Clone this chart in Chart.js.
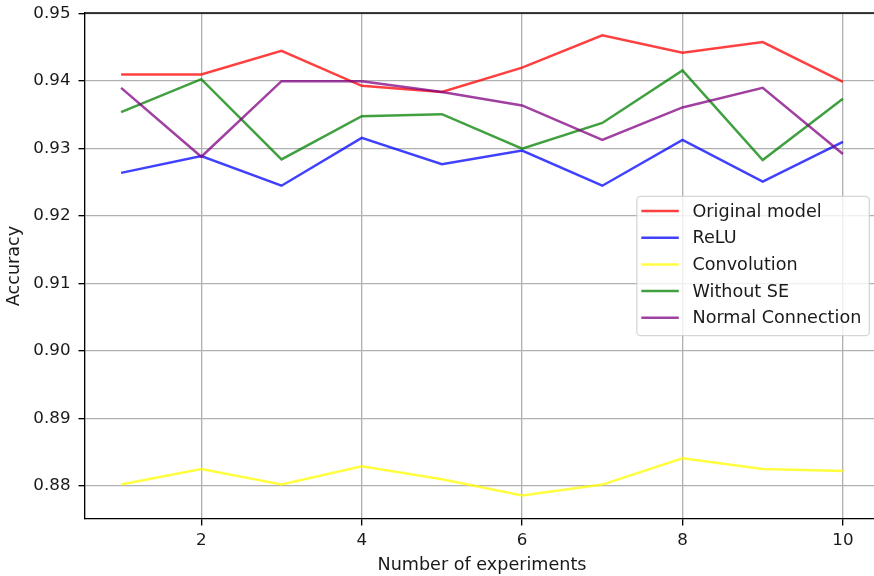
<!DOCTYPE html>
<html>
<head>
<meta charset="utf-8">
<script src="https://cdn.jsdelivr.net/npm/chart.js@4"></script>
<style>
  html, body { margin: 0; padding: 0; background: #fff; overflow: hidden; }
  #wrap { width: 874px; height: 576px; overflow: hidden; }
  #myChart { display: block; }
</style>
</head>
<body>
<div id="wrap"><canvas id="myChart" width="879" height="576"></canvas></div>
<script>
var experiments = [1, 2, 3, 4, 5, 6, 7, 8, 9, 10];
var originalModel = [0.9410, 0.9410, 0.9445, 0.9393, 0.9384, 0.9420, 0.9468, 0.9442, 0.9458, 0.9399];
var relu = [0.9264, 0.9289, 0.9245, 0.9316, 0.9277, 0.9297, 0.9245, 0.9313, 0.9251, 0.9310];
var convolution = [0.8802, 0.8825, 0.8802, 0.8829, 0.8810, 0.8786, 0.8802, 0.8841, 0.8825, 0.8822];
var withoutSE = [0.9354, 0.9403, 0.9284, 0.9348, 0.9351, 0.9300, 0.9338, 0.9416, 0.9283, 0.9374];
var normalConnection = [0.9390, 0.9288, 0.9400, 0.9400, 0.9384, 0.9364, 0.9313, 0.9361, 0.9390, 0.9292];
var seriesNames = ["Original model", "ReLU", "Convolution", "Without SE", "Normal Connection"];
var seriesValues = [originalModel, relu, convolution, withoutSE, normalConnection];
var lineColors = ["rgba(255,0,0,0.75)", "rgba(0,0,255,0.75)", "rgba(255,255,0,0.75)", "rgba(0,128,0,0.75)", "rgba(128,0,128,0.75)"];
var xTicks = [2, 4, 6, 8, 10];
var yTicks = [0.88, 0.89, 0.90, 0.91, 0.92, 0.93, 0.94, 0.95];

var FONT = '"DejaVu Sans", sans-serif';
var FSIZE = 16.7;   // tick labels
var LSIZE = 17.6;   // axis titles + legend
Chart.defaults.font.family = FONT;
Chart.defaults.font.size = FSIZE;
Chart.defaults.color = '#1a1a1a';

var datasets = seriesNames.map(function (name, i) {
    return {
        label: name,
        data: experiments.map(function (x, j) { return { x: x, y: seriesValues[i][j] }; }),
        borderColor: lineColors[i],
        backgroundColor: lineColors[i],
        borderWidth: 2.5,
        pointRadius: 0,
        tension: 0,
        fill: false,
        order: seriesNames.length - i
    };
});

// top spine + legend inside the plot (matplotlib style, loc center right)
var frameAndLegend = {
    id: 'frameAndLegend',
    beforeDatasetsDraw: function (chart) {
        var ctx = chart.ctx, a = chart.chartArea;
        ctx.save();
        ctx.strokeStyle = '#000';
        ctx.lineWidth = 1.33;
        ctx.beginPath();
        ctx.moveTo(a.left, a.top);
        ctx.lineTo(a.right, a.top);
        ctx.stroke();
        ctx.restore();
    },
    afterDatasetsDraw: function (chart) {
        var ctx = chart.ctx, a = chart.chartArea;
        var sets = chart.data.datasets;
        ctx.save();
        ctx.font = LSIZE + 'px ' + FONT;
        var maxW = 0;
        sets.forEach(function (d) { maxW = Math.max(maxW, ctx.measureText(d.label).width); });
        var rowH = 26.67;
        var w = 55.7 + maxW + 8;
        var h = 139.3;
        var right = a.right - 9.7;
        var left = right - w;
        var top = (a.top + a.bottom) / 2 - h / 2;
        ctx.beginPath();
        ctx.roundRect(left, top, w, h, 4);
        ctx.fillStyle = 'rgba(255,255,255,0.8)';
        ctx.fill();
        ctx.strokeStyle = 'rgba(204,204,204,0.8)';
        ctx.lineWidth = 1.3;
        ctx.stroke();
        sets.forEach(function (d, i) {
            var cy = top + 14.7 + i * rowH;
            ctx.strokeStyle = d.borderColor;
            ctx.lineWidth = 2.5;
            ctx.beginPath();
            ctx.moveTo(left + 4.5, cy);
            ctx.lineTo(left + 42, cy);
            ctx.stroke();
            ctx.fillStyle = '#1a1a1a';
            ctx.textBaseline = 'middle';
            ctx.textAlign = 'left';
            ctx.fillText(d.label, left + 55.7, cy + 1);
        });
        ctx.restore();
    }
};

new Chart("myChart", {
    type: "line",
    data: { datasets: datasets },
    plugins: [frameAndLegend],
    options: {
        responsive: false,
        animation: false,
        devicePixelRatio: 1,
        layout: { padding: { top: 13, right: 0, left: 0, bottom: 0 } },
        plugins: {
            legend: { display: false },
            tooltip: { enabled: false }
        },
        scales: {
            x: {
                type: 'linear',
                min: 0.55,
                max: 10.45,
                afterBuildTicks: function (scale) {
                    scale.ticks = xTicks.map(function (v) { return { value: v }; });
                },
                afterFit: function (scale) {
                    scale.height = 57;
                    scale.paddingLeft = 0;
                    scale.paddingRight = 0;
                },
                ticks: {
                    padding: 5,
                    maxRotation: 0,
                    callback: function (v) { return String(v); }
                },
                grid: {
                    color: '#b0b0b0',
                    lineWidth: 1.33,
                    tickColor: '#000',
                    tickLength: 6.5
                },
                border: { color: '#000', width: 1.33 },
                title: {
                    display: true,
                    text: 'Number of experiments',
                    font: { size: LSIZE },
                    padding: { top: 0, bottom: 0 }
                }
            },
            y: {
                type: 'linear',
                min: 0.8751,
                max: 0.9501,
                afterBuildTicks: function (scale) {
                    scale.ticks = yTicks.map(function (v) { return { value: v }; });
                },
                afterFit: function (scale) {
                    scale.width = 85;
                    scale.paddingTop = 0;
                    scale.paddingBottom = 0;
                },
                ticks: {
                    padding: 8,
                    callback: function (v) { return Number(v).toFixed(2); }
                },
                grid: {
                    color: '#b0b0b0',
                    lineWidth: 1.33,
                    tickColor: '#000',
                    tickLength: 6.5
                },
                border: { color: '#000', width: 1.33 },
                title: {
                    display: true,
                    text: 'Accuracy',
                    font: { size: LSIZE },
                    padding: { top: 4, bottom: 0 }
                }
            }
        }
    }
});
</script>
</body>
</html>
